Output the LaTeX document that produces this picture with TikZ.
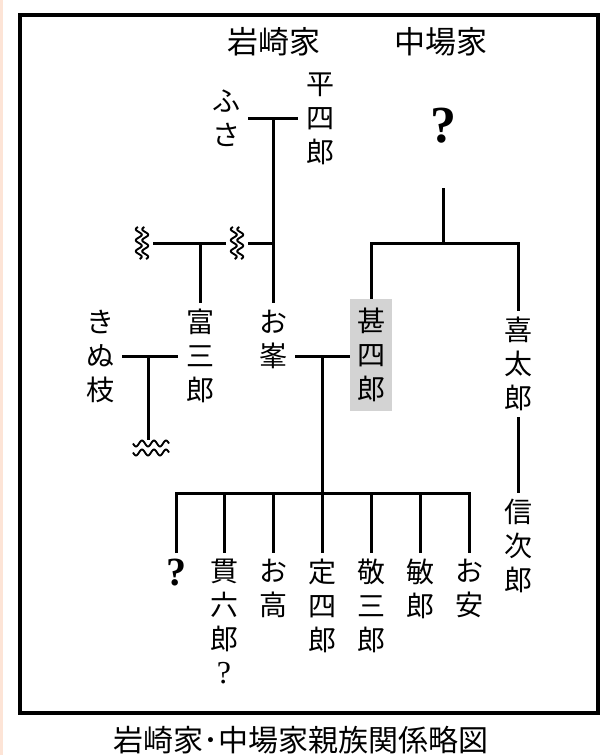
\documentclass[tikz,border=0pt]{standalone}
\usepackage{fontspec}
\setmainfont{Noto Sans CJK JP}
\newfontfamily\qfont{Liberation Serif}
\usetikzlibrary{calc}
\definecolor{jgray}{RGB}{211,211,211}
\definecolor{peach}{RGB}{253,228,214}
\begin{document}
\begin{tikzpicture}[x=1pt,y=-1pt,
  conn/.style={line width=3pt},
  nm/.style={font=\fontsize{28}{34}\selectfont, align=center, inner xsep=8pt, inner ysep=6pt},
  hd/.style={font=\fontsize{31}{33}\selectfont, inner sep=0pt},
  wv/.style={inner sep=0pt, minimum width=22pt, minimum height=34pt},
  wh/.style={inner sep=0pt, minimum width=38pt, minimum height=16pt},
  wave/.style={line width=1.9pt, smooth}
]
\useasboundingbox (0,0) rectangle (612,755);
\fill[white] (0,0) rectangle (612,755);
\fill[peach] (0,0) rectangle (3,755);
\draw[line width=4pt] (19.5,15) rectangle (598,713);

% headers
\node[hd] (iwasaki) at (274,42) {岩崎家};
\node[hd] (nakaba) at (441,42) {中場家};

% Iwasaki top generation
\node[nm] (fusa) at (226,118) {ふ\\さ};
\node[nm] (heishiro) at (320,119) {平\\四\\郎};
\coordinate (m1) at (273,118);
\draw[conn] (fusa.east |- m1) -- (heishiro.west |- m1);

% wavy row
\node[wv] (w1) at (142,243) {};
\node[wv] (w2) at (237,243) {};
\coordinate (j1) at (200,243);
\coordinate (j0) at (273,243);
\draw[conn] (w1) -- (w2);
\draw[conn] (w2) -- (j0);
\foreach \n in {w1,w2}{
  \draw[wave, shift={(\n.center)}] plot[domain=-16:16, samples=50] ({-3.2+3*sin(\x*32.7)}, {\x});
  \draw[wave, shift={(\n.center)}] plot[domain=-16:16, samples=50] ({3.2+3*sin(\x*32.7)}, {\x});
}

\node[nm] (omine) at (273,339) {お\\峯};
\draw[conn] (m1) -- (omine);
\node[nm] (tomi) at (200,356) {富\\三\\郎};
\draw[conn] (j1) -- (tomi);
\node[nm] (kinue) at (100,356) {き\\ぬ\\枝};
\draw[conn] (kinue) -- (tomi);
\coordinate (m2) at (148,356);
\node[wh] (w3) at (151,448) {};
\draw[conn] (m2) -- (m2 |- w3.north);
\draw[wave, shift={(w3.center)}] plot[domain=-18:18, samples=60] ({\x}, {-4.5-3*sin(\x*30)});
\draw[wave, shift={(w3.center)}] plot[domain=-18:18, samples=60] ({\x}, {4.5-3*sin(\x*30)});

% Nakaba
\node[font=\qfont\bfseries\fontsize{52}{56}\selectfont, inner sep=0pt] (q0) at (443,126) {?};
\coordinate (q0b) at (443,188);
\coordinate (j2) at (443,243);
\draw[conn] (q0b) -- (j2);
\node[nm, fill=jgray, inner xsep=7pt, inner ysep=9pt] (jin) at (371,355) {甚\\四\\郎};
\node[nm] (kita) at (518,364) {喜\\太\\郎};
\draw[conn] (jin.north) -- (jin.north |- j2) -- (kita.north |- j2) -- (kita.north);
\node[nm] (shin) at (518,546) {信\\次\\郎};
\draw[conn] (kita) -- (shin);

% marriage omine - jinshiro
\coordinate (m3) at (322,356);
\draw[conn] (omine.east |- m3) -- (jin.west |- m3);
\coordinate (bar) at (322,493);
\draw[conn] (m3) -- (bar);

% children
\node[nm, anchor=north, font=\qfont\bfseries\fontsize{40}{44}\selectfont] (c1) at (176,553) {?};
\node[nm, anchor=north] (c2) at (224,553) {貫\\六\\郎\\{\qfont\fontsize{32}{34}\selectfont ?}};
\node[nm, anchor=north] (c3) at (273,553) {お\\高};
\node[nm, anchor=north] (c4) at (322,553) {定\\四\\郎};
\node[nm, anchor=north] (c5) at (371,553) {敬\\三\\郎};
\node[nm, anchor=north] (c6) at (420,553) {敏\\郎};
\node[nm, anchor=north] (c7) at (469,553) {お\\安};
\draw[conn] (c1.north) -- (c1.north |- bar) -- (c7.north |- bar) -- (c7.north);
\foreach \c in {c2,c3,c4,c5,c6}{
  \draw[conn] (\c.north |- bar) -- (\c.north);
}

% caption
\node[font=\fontsize{30}{32}\selectfont, inner sep=0pt] (cap) at (301,740) {岩崎家･中場家親族関係略図};
\end{tikzpicture}
\end{document}
